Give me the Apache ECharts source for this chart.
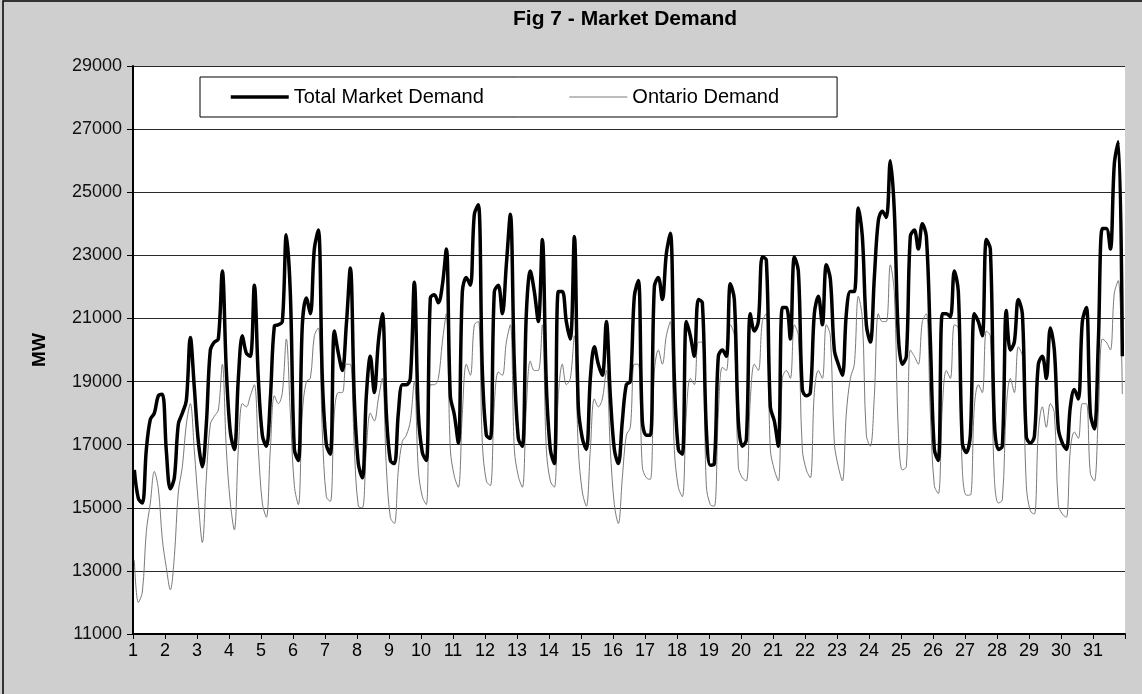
<!DOCTYPE html>
<html>
<head>
<meta charset="utf-8">
<script src="https://cdn.jsdelivr.net/npm/echarts@6/dist/echarts.min.js"></script>
<style>
  html, body { margin: 0; padding: 0; background: #cfcfcf; }
  #chart { width: 1142px; height: 694px; }
</style>
</head>
<body>
<div id="chart"></div>
<script>
'use strict';
// day labels on the x axis
var days = [1,2,3,4,5,6,7,8,9,10,11,12,13,14,15,16,17,18,19,20,21,22,23,24,25,26,27,28,29,30,31]
var sampleHours = [1, 4, 7, 10, 13, 16, 19, 22]

// MW, one row per day
var totalDemand = [
  16200, 15300, 15150, 16850, 17800, 18000, 18550, 18600,
  16800, 15600, 15950, 17650, 18000, 18400, 20400, 18800,
  17100, 16300, 17650, 20000, 20250, 20350, 22500, 19350,
  17400, 16850, 19100, 20450, 19900, 19800, 22050, 19100,
  17300, 16950, 18450, 20750, 20800, 20900, 23650, 21800,
  16850, 16500, 20800, 21650, 21150, 23200, 23800, 19100,
  17000, 16700, 20600, 19900, 19350, 20800, 22600, 18450,
  16400, 15950, 18550, 19800, 18650, 20250, 21150, 18000,
  16500, 16400, 18000, 18900, 18900, 19100, 22150, 18000,
  16750, 16500, 21650, 21750, 21500, 22050, 23200, 18550,
  17950, 17050, 21850, 22300, 22050, 24300, 24600, 19350,
  17300, 17200, 21850, 22050, 21150, 22700, 24300, 19550,
  17200, 16950, 21150, 22500, 21850, 20900, 23500, 18900,
  16850, 16400, 21850, 21850, 20900, 20350, 23600, 18200,
  17200, 16850, 19100, 20100, 19550, 19200, 20900, 18550,
  16850, 16400, 17750, 18900, 19000, 21700, 22200, 17750,
  17300, 17300, 22000, 22300, 21600, 23050, 23700, 19100,
  16850, 16700, 20900, 20450, 19800, 21600, 21500, 17500,
  16350, 16400, 19800, 20000, 19800, 22100, 21600, 17750,
  16950, 17150, 21150, 20600, 20900, 22950, 22850, 18200,
  17750, 16950, 21350, 21350, 20350, 22950, 22500, 18750,
  18550, 18650, 21150, 21700, 20800, 22700, 22250, 20000,
  19550, 19200, 21150, 21850, 21850, 24500, 23600, 20800,
  20250, 22300, 24100, 24400, 24200, 26000, 24400, 20450,
  19550, 19800, 23600, 23800, 23200, 24000, 23600, 20300,
  16850, 16500, 21150, 21150, 21050, 22500, 21850, 17050,
  16750, 17300, 21150, 20900, 20450, 23500, 23200, 17750,
  16850, 16950, 21250, 20000, 20250, 21600, 21150, 17250,
  17050, 17250, 19550, 19800, 19100, 20700, 20000, 17500,
  17050, 16850, 18200, 18750, 18450, 20900, 21350, 18000,
  17500, 20250, 23850, 23850, 23200, 25900, 26600, 19800
]

var ontarioDemand = [
  13350, 12000, 12330, 14250, 15150, 16150, 15600, 14000,
  13100, 12400, 13450, 15500, 16300, 17650, 18300, 16800,
  15150, 13900, 15950, 17650, 17900, 18100, 19550, 16850,
  15150, 14300, 16850, 18300, 18200, 18550, 18900, 16850,
  15150, 14700, 16850, 18550, 18300, 18650, 20350, 18000,
  15700, 15100, 18000, 19000, 19100, 20450, 20700, 17400,
  15350, 15200, 18000, 18650, 18650, 19550, 19550, 16850,
  15050, 15000, 16850, 18000, 17750, 18450, 19100, 16300,
  14700, 14500, 16200, 17100, 17300, 17750, 19000, 16200,
  15350, 15100, 18900, 18900, 19100, 20250, 21150, 16850,
  16000, 15650, 18000, 19550, 19200, 20800, 20900, 17050,
  15850, 15700, 18300, 19300, 19200, 20250, 20800, 16850,
  16000, 15650, 18200, 19650, 19350, 19350, 20800, 16850,
  15850, 15650, 18550, 19550, 18900, 19100, 20450, 16850,
  15500, 15050, 16850, 18450, 18200, 18450, 19350, 16850,
  15100, 14500, 15950, 17300, 17550, 19550, 19550, 16300,
  15950, 15900, 19300, 20000, 19550, 20450, 20900, 16850,
  15650, 15350, 18000, 19100, 18900, 20250, 20250, 15700,
  15100, 15050, 18000, 19450, 19350, 20800, 20450, 16300,
  15950, 15850, 18450, 19550, 19350, 20900, 21150, 16850,
  16200, 15850, 19100, 19350, 19100, 20800, 20450, 16850,
  16200, 15950, 18650, 19350, 19100, 20800, 20450, 17050,
  16300, 15850, 18000, 19100, 19550, 21700, 21000, 17300,
  16950, 18550, 21150, 20900, 20900, 22700, 21800, 17400,
  16200, 16300, 20000, 19800, 19550, 20900, 21150, 18000,
  15700, 15450, 18200, 19350, 19100, 20800, 20700, 16200,
  15400, 15400, 18200, 18900, 18650, 20600, 20450, 15950,
  15150, 15250, 18200, 19100, 18650, 20100, 19800, 15700,
  14900, 14800, 17400, 18200, 17550, 18300, 18000, 15100,
  14800, 14700, 16850, 17400, 17200, 18300, 18300, 16100,
  15850, 18000, 20350, 20250, 20000, 21800, 22200, 18600
]

var fontFam = '"Liberation Sans", Arial, sans-serif'

// hour index on the axis for each reading
function toPoints(arr) {
  return arr.map((v, i) => {
    var d = Math.floor(i / sampleHours.length)
    return [d * 24 + sampleHours[i % sampleHours.length], v]
  })
}

var mychart = echarts.init(document.getElementById('chart'), null, { renderer: 'canvas' })

var option = {
  backgroundColor: '#cfcfcf',
  animation: false,
  title: {
    text: 'Fig 7 - Market Demand',
    left: 508,
    top: 4,
    textStyle: { fontFamily: fontFam, fontSize: 21, fontWeight: 'bold', color: '#000' }
  },
  legend: {
    data: [
      { name: 'Total Market Demand', lineStyle: { width: 3.5, color: '#000' } },
      { name: 'Ontario Demand', lineStyle: { width: 1, color: '#7a7a7a' } }
    ],
    left: 200,
    top: 77,
    padding: [10, 58, 10, 29],
    itemGap: 85,
    itemWidth: 58,
    itemHeight: 18,
    backgroundColor: '#fff',
    borderColor: '#000',
    borderWidth: 1,
    borderRadius: 0,
    itemStyle: { opacity: 0 },
    textStyle: { fontFamily: fontFam, fontSize: 20, color: '#000' }
  },
  grid: {
    left: 133,
    right: 17,
    top: 66,
    bottom: 60,
    show: true,
    backgroundColor: '#fff',
    borderWidth: 0
  },
  xAxis: {
    type: 'value',
    min: 0,
    max: days.length * 24,
    interval: 24,
    axisLine: { lineStyle: { color: '#000', width: 2 } },
    axisTick: { show: true, length: 5, lineStyle: { color: '#000' } },
    splitLine: { show: false },
    axisLabel: {
      margin: 8,
      fontFamily: fontFam,
      fontSize: 18,
      color: '#000',
      formatter: (v) => {
        var idx = Math.round(v / 24)
        return idx < days.length ? String(days[idx]) : ''
      }
    }
  },
  yAxis: {
    type: 'value',
    min: 11000,
    max: 29000,
    interval: 2000,
    name: 'MW',
    nameLocation: 'middle',
    nameRotate: 90,
    nameGap: 84,
    nameTextStyle: { fontFamily: fontFam, fontSize: 19, fontWeight: 'bold', color: '#000' },
    axisLine: { show: true, lineStyle: { color: '#000', width: 2 } },
    axisTick: { show: true, length: 6, lineStyle: { color: '#000' } },
    splitLine: { lineStyle: { color: '#2a2a2a', width: 1 } },
    axisLabel: {
      margin: 11,
      fontFamily: fontFam,
      fontSize: 18,
      color: '#111',
      formatter: (v) => String(v)
    }
  },
  series: [
    {
      name: 'Ontario Demand',
      type: 'line',
      data: toPoints(ontarioDemand),
      symbol: 'none',
      smooth: 0.35,
      lineStyle: { color: '#7a7a7a', width: 1 },
      itemStyle: { color: '#7a7a7a' },
      z: 2
    },
    {
      name: 'Total Market Demand',
      type: 'line',
      data: toPoints(totalDemand),
      symbol: 'none',
      smooth: 0.35,
      lineStyle: { color: '#000', width: 3.5 },
      itemStyle: { color: '#000' },
      z: 3
    }
  ],
  graphic: [
    {
      type: 'rect',
      shape: { x: 3, y: 1, width: 1160, height: 720 },
      style: { fill: 'none', stroke: '#000', lineWidth: 1.5 },
      silent: true
    }
  ]
}

mychart.setOption(option)
</script>
</body>
</html>
